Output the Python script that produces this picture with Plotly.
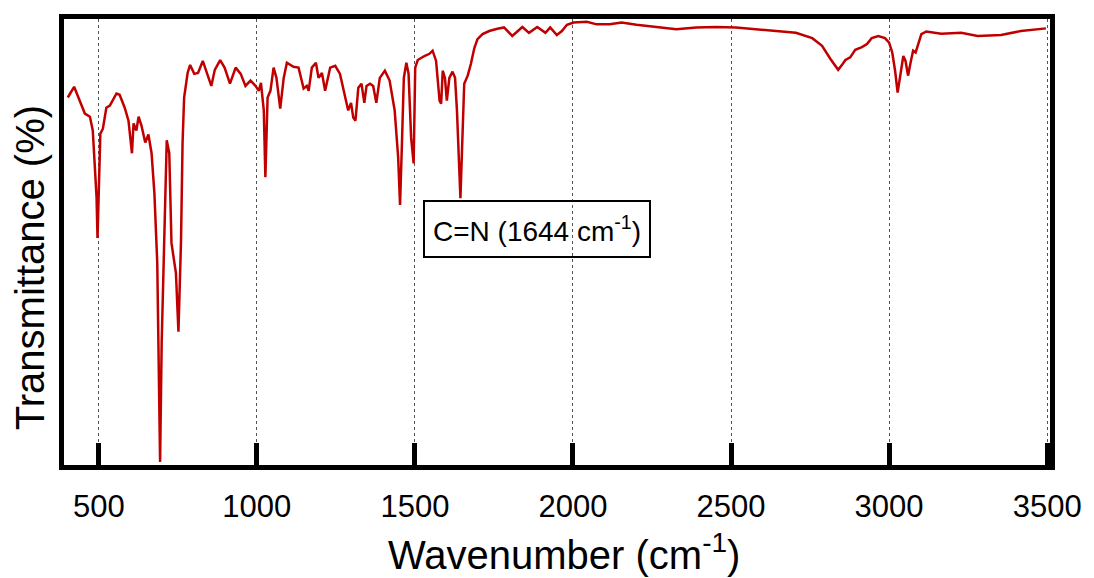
import plotly.graph_objects as go

# FT-IR spectrum: wavenumber (cm^-1) vs transmittance (%)
wavenumber = [
    402, 422, 456, 472, 481, 493, 496, 500, 505, 513, 524, 535, 556, 566, 582, 594,
    605, 610, 619, 626, 635, 647, 657, 667, 676, 685, 690, 694, 699, 708, 715, 723,
    730, 737, 744, 752, 760, 765, 770, 781, 789, 802, 814, 829, 842, 856, 867, 884,
    898, 915, 933, 949, 964, 980, 996, 1006, 1013, 1022, 1027, 1034, 1043, 1053, 1062,
    1074, 1085, 1095, 1116, 1132, 1148, 1158, 1164, 1174, 1187, 1195, 1206, 1216, 1232,
    1248, 1263, 1279, 1289, 1298, 1305, 1312, 1321, 1331, 1340, 1347, 1358, 1368, 1378,
    1389, 1405, 1420, 1436, 1447, 1453, 1459, 1465, 1473, 1480, 1488, 1496, 1501, 1509,
    1530, 1546, 1556, 1567, 1578, 1583, 1588, 1595, 1601, 1609, 1619, 1627, 1633, 1639,
    1644, 1649, 1656, 1667, 1677, 1688, 1698, 1714, 1735, 1761, 1782, 1808, 1840, 1861,
    1887, 1913, 1928, 1949, 1965, 1981, 2002, 2044, 2075, 2116, 2154, 2201, 2264, 2327,
    2390, 2453, 2516, 2620, 2705, 2757, 2788, 2814, 2839, 2853, 2862, 2877, 2893, 2914,
    2930, 2945, 2966, 2987, 3000, 3010, 3019, 3027, 3034, 3045, 3052, 3060, 3069, 3076,
    3084, 3092, 3102, 3118, 3165, 3228, 3280, 3354, 3417, 3496,
]
transmittance = [
    82.4, 84.8, 78.8, 78.1, 75.0, 60.0, 50.9, 63.2, 74.3, 75.4, 80.1, 80.6, 83.3, 83.0, 80.1, 77.2,
    69.9, 76.6, 75.0, 78.1, 76.1, 72.3, 74.1, 69.9, 60.9, 45.3, 19.9, 0.7, 27.5, 57.1, 72.8, 69.9,
    49.8, 46.4, 43.1, 29.9, 49.8, 72.1, 82.4, 87.9, 89.7, 87.7, 87.9, 90.6, 87.9, 85.0, 88.6, 90.8,
    89.1, 85.5, 89.1, 87.7, 85.0, 86.2, 85.0, 83.9, 85.7, 79.5, 64.5, 82.4, 83.9, 89.1, 86.8,
    79.9, 86.8, 90.2, 89.3, 89.1, 84.4, 85.0, 83.9, 89.1, 90.2, 86.8, 87.9, 83.9, 89.1,
    89.5, 87.7, 82.4, 79.5, 81.2, 77.9, 77.2, 84.6, 85.5, 81.2, 85.0, 85.5, 85.0, 81.2,
    86.8, 88.4, 86.2, 79.5, 69.0, 58.3, 72.1, 86.8, 90.2, 87.7, 73.4, 67.6, 89.1, 90.8,
    91.7, 92.2, 92.9, 90.6, 81.7, 81.0, 88.4, 86.8, 81.7, 86.8, 88.2, 86.8, 79.5, 68.3,
    59.8, 70.5, 85.5, 87.3, 89.9, 93.5, 95.5, 96.6, 97.3, 97.8, 98.1, 96.2, 98.2, 96.9,
    98.2, 96.9, 98.1, 96.4, 97.3, 98.7, 99.2, 99.4, 98.8, 98.8, 99.2, 98.7, 98.2, 97.7,
    98.1, 98.2, 98.1, 97.5, 96.9, 95.7, 94.0, 91.1, 88.6, 89.9, 90.8, 91.4, 93.1, 93.7,
    94.4, 95.7, 96.2, 95.7, 94.7, 92.5, 88.4, 83.5, 86.9, 91.7, 90.6, 87.3, 90.6, 92.9,
    92.5, 94.3, 96.6, 97.2, 96.7, 96.9, 96.2, 96.4, 97.3, 97.9,
]
x_ticks = [500, 1000, 1500, 2000, 2500, 3000, 3500]
peak_label = "C=N (1644 cm<sup>-1</sup>)"

FONT = "Arial, Liberation Sans, sans-serif"

fig = go.Figure()
fig.add_trace(go.Scatter(
    x=wavenumber, y=transmittance, mode="lines",
    line=dict(color="#c00000", width=2.5),
    hoverinfo="skip", showlegend=False,
))

fig.update_layout(
    width=1094, height=578, autosize=False,
    margin=dict(l=64, r=38, t=19, b=113),
    paper_bgcolor="white", plot_bgcolor="white",
    font=dict(family=FONT, color="black"),
)

fig.update_xaxes(
    range=[390, 3509],
    tickvals=x_ticks, ticktext=[str(v) for v in x_ticks],
    tickfont=dict(size=31, family=FONT, color="black"),
    ticks="inside", ticklen=22, tickwidth=5, tickcolor="black",
    ticklabelstandoff=10,
    showline=True, linewidth=5, linecolor="black", mirror=True,
    showgrid=True, gridcolor="#555555", gridwidth=1, griddash="dot",
    zeroline=False,
)
fig.update_yaxes(
    range=[0, 100],
    showticklabels=False, ticks="",
    showline=True, linewidth=5, linecolor="black", mirror=True,
    showgrid=False, zeroline=False,
)

# axis titles
fig.add_annotation(
    text="Wavenumber (cm<sup>-1</sup>)", xref="paper", yref="paper",
    x=0.507, y=-0.196, xanchor="center", yanchor="middle", showarrow=False,
    font=dict(size=40, family=FONT, color="black"),
)
fig.add_annotation(
    text="Transmittance (%)", xref="paper", yref="paper",
    x=-0.0343, y=0.4417, xanchor="center", yanchor="middle", showarrow=False,
    textangle=-90, font=dict(size=40, family=FONT, color="black"),
)

# peak label box
fig.add_annotation(
    text=peak_label, xref="x", yref="y",
    x=1525, y=59.5, xanchor="left", yanchor="top", showarrow=False,
    font=dict(size=28, family=FONT, color="black"),
    height=38, valign="middle",
    bordercolor="black", borderwidth=2, borderpad=8, bgcolor="rgba(0,0,0,0)",
)

fig.write_html("out.html")
